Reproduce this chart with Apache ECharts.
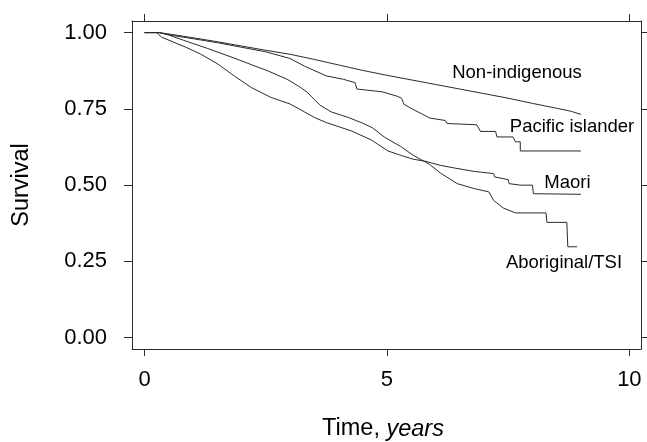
<!DOCTYPE html>
<html>
<head>
<meta charset="utf-8">
<script src="https://cdn.jsdelivr.net/npm/echarts@6/dist/echarts.min.js"></script>
<style>
html,body{margin:0;padding:0;background:#fff;}
#chart{width:647px;height:442px;}
</style>
</head>
<body>
<div id="chart"></div>
<script>
// ---- data (time in years, survival proportion) ----
const xTickValues = [0, 5, 10];
const yTickValues = [0, 0.25, 0.5, 0.75, 1];
const seriesNames = ['Non-indigenous', 'Pacific islander', 'Maori', 'Aboriginal/TSI'];

const nonIndigenous = [
  [0,1],[0.3,1],[0.6,0.993],[1.0,0.983],[1.5,0.970],[2.0,0.956],[2.5,0.942],[3.0,0.929],
  [3.5,0.912],[4.0,0.894],[4.5,0.876],[5.0,0.860],[5.5,0.845],[6.0,0.830],[6.5,0.815],
  [7.0,0.800],[7.5,0.785],[8.0,0.768],[8.5,0.752],[8.8,0.742],[9.0,0.732]
];
const pacificIslander = [
  [0,1],[0.3,1],[0.6,0.99],[1.0,0.98],[1.5,0.967],[2.0,0.952],[2.5,0.937],[3.0,0.915],
  [3.3,0.890],[3.75,0.858],[4.1,0.847],[4.34,0.836],[4.38,0.815],[4.9,0.806],[5.2,0.792],
  [5.3,0.785],[5.35,0.765],[5.54,0.748],[5.7,0.735],[5.88,0.720],[6.2,0.712],[6.24,0.702],
  [6.85,0.698],[6.93,0.676],[7.24,0.676],[7.27,0.658],[7.6,0.658],[7.65,0.642],[7.75,0.642],
  [7.75,0.612],[9.0,0.612]
];
const maori = [
  [0,1],[0.25,1],[0.35,0.985],[0.85,0.952],[1.15,0.930],[1.5,0.898],[1.85,0.858],[2.2,0.820],
  [2.6,0.788],[3.0,0.766],[3.3,0.740],[3.5,0.722],[3.75,0.705],[4.26,0.678],[4.68,0.648],
  [5.02,0.612],[5.3,0.597],[5.54,0.585],[5.8,0.578],[6.1,0.565],[6.4,0.556],[6.8,0.545],
  [7.2,0.538],[7.22,0.527],[7.5,0.518],[7.52,0.505],[7.75,0.500],[8.0,0.500],[8.02,0.472],
  [9.0,0.470]
];
const aboriginalTSI = [
  [0,1],[0.3,1],[0.5,0.992],[0.8,0.975],[1.3,0.948],[1.84,0.917],[2.2,0.895],[2.55,0.874],
  [2.94,0.847],[3.2,0.822],[3.35,0.805],[3.62,0.762],[3.85,0.740],[4.2,0.722],[4.5,0.703],
  [4.7,0.688],[4.95,0.657],[5.28,0.627],[5.54,0.598],[5.88,0.568],[6.1,0.540],[6.45,0.505],
  [6.79,0.489],[7.1,0.478],[7.2,0.450],[7.4,0.425],[7.65,0.409],[8.28,0.409],[8.3,0.378],
  [8.71,0.378],[8.73,0.298],[8.92,0.298]
];
const seriesData = [nonIndigenous, pacificIslander, maori, aboriginalTSI];

// ---- chart ----
const FONT = '"Liberation Sans", Arial, Helvetica, sans-serif';
const INK = '#2b2b2b';
const TXT = '#000';
const chart = echarts.init(document.getElementById('chart'), null, {renderer: 'canvas'});

function xAx(pos, showLabel) {
  return {
    type: 'value', position: pos, min: -0.26, max: 10.24,
    axisLine: {show: true, onZero: false, lineStyle: {color: INK, width: 1}},
    axisTick: {show: true, inside: false, length: 7, customValues: xTickValues, lineStyle: {color: INK, width: 1}},
    axisLabel: {show: showLabel, customValues: xTickValues, fontSize: 22, color: TXT, fontFamily: FONT, margin: 20},
    splitLine: {show: false}
  };
}
function yAx(pos, showLabel) {
  return {
    type: 'value', position: pos, min: -0.037, max: 1.038,
    axisLine: {show: true, onZero: false, lineStyle: {color: INK, width: 1}},
    axisTick: {show: true, inside: false, length: 8, customValues: yTickValues, lineStyle: {color: INK, width: 1}},
    axisLabel: {show: showLabel, customValues: yTickValues, fontSize: 22, color: TXT, fontFamily: FONT, margin: 25,
      formatter: v => v.toFixed(2)},
    splitLine: {show: false}
  };
}

const option = {
  animation: false,
  backgroundColor: '#fff',
  grid: {left: 132, right: 6, top: 21, bottom: 93, containLabel: false},
  xAxis: [xAx('bottom', true), xAx('top', false)],
  yAxis: [yAx('left', true), yAx('right', false)],
  series: seriesData.map((d, i) => ({
    name: seriesNames[i], type: 'line', data: d, showSymbol: false, symbol: 'none',
    xAxisIndex: 0, yAxisIndex: 0,
    lineStyle: {color: INK, width: 1}, z: 3
  })),
  graphic: [
    {type: 'text', x: 22, y: 185, rotation: Math.PI / 2,
      style: {text: 'Survival', fontSize: 23.5, fontFamily: FONT, fill: TXT, align: 'center', verticalAlign: 'middle'}},
    {type: 'text', x: 383, y: 429,
      style: {text: '{n|Time, }{i|years}', fontSize: 23.5, fontFamily: FONT, fill: TXT, align: 'center', verticalAlign: 'middle',
        rich: {n: {fontSize: 23.5, fontFamily: FONT, fill: TXT}, i: {fontSize: 23.5, fontFamily: FONT, fontStyle: 'italic', fill: TXT}}}},
    {type: 'text', x: 517, y: 73,
      style: {text: seriesNames[0], fontSize: 18.5, fontFamily: FONT, fill: TXT, align: 'center', verticalAlign: 'middle'}},
    {type: 'text', x: 572, y: 127,
      style: {text: seriesNames[1], fontSize: 18.5, fontFamily: FONT, fill: TXT, align: 'center', verticalAlign: 'middle'}},
    {type: 'text', x: 567.5, y: 183,
      style: {text: seriesNames[2], fontSize: 18.5, fontFamily: FONT, fill: TXT, align: 'center', verticalAlign: 'middle'}},
    {type: 'text', x: 564, y: 263,
      style: {text: seriesNames[3], fontSize: 18.5, fontFamily: FONT, fill: TXT, align: 'center', verticalAlign: 'middle'}}
  ]
};
chart.setOption(option);
</script>
</body>
</html>
